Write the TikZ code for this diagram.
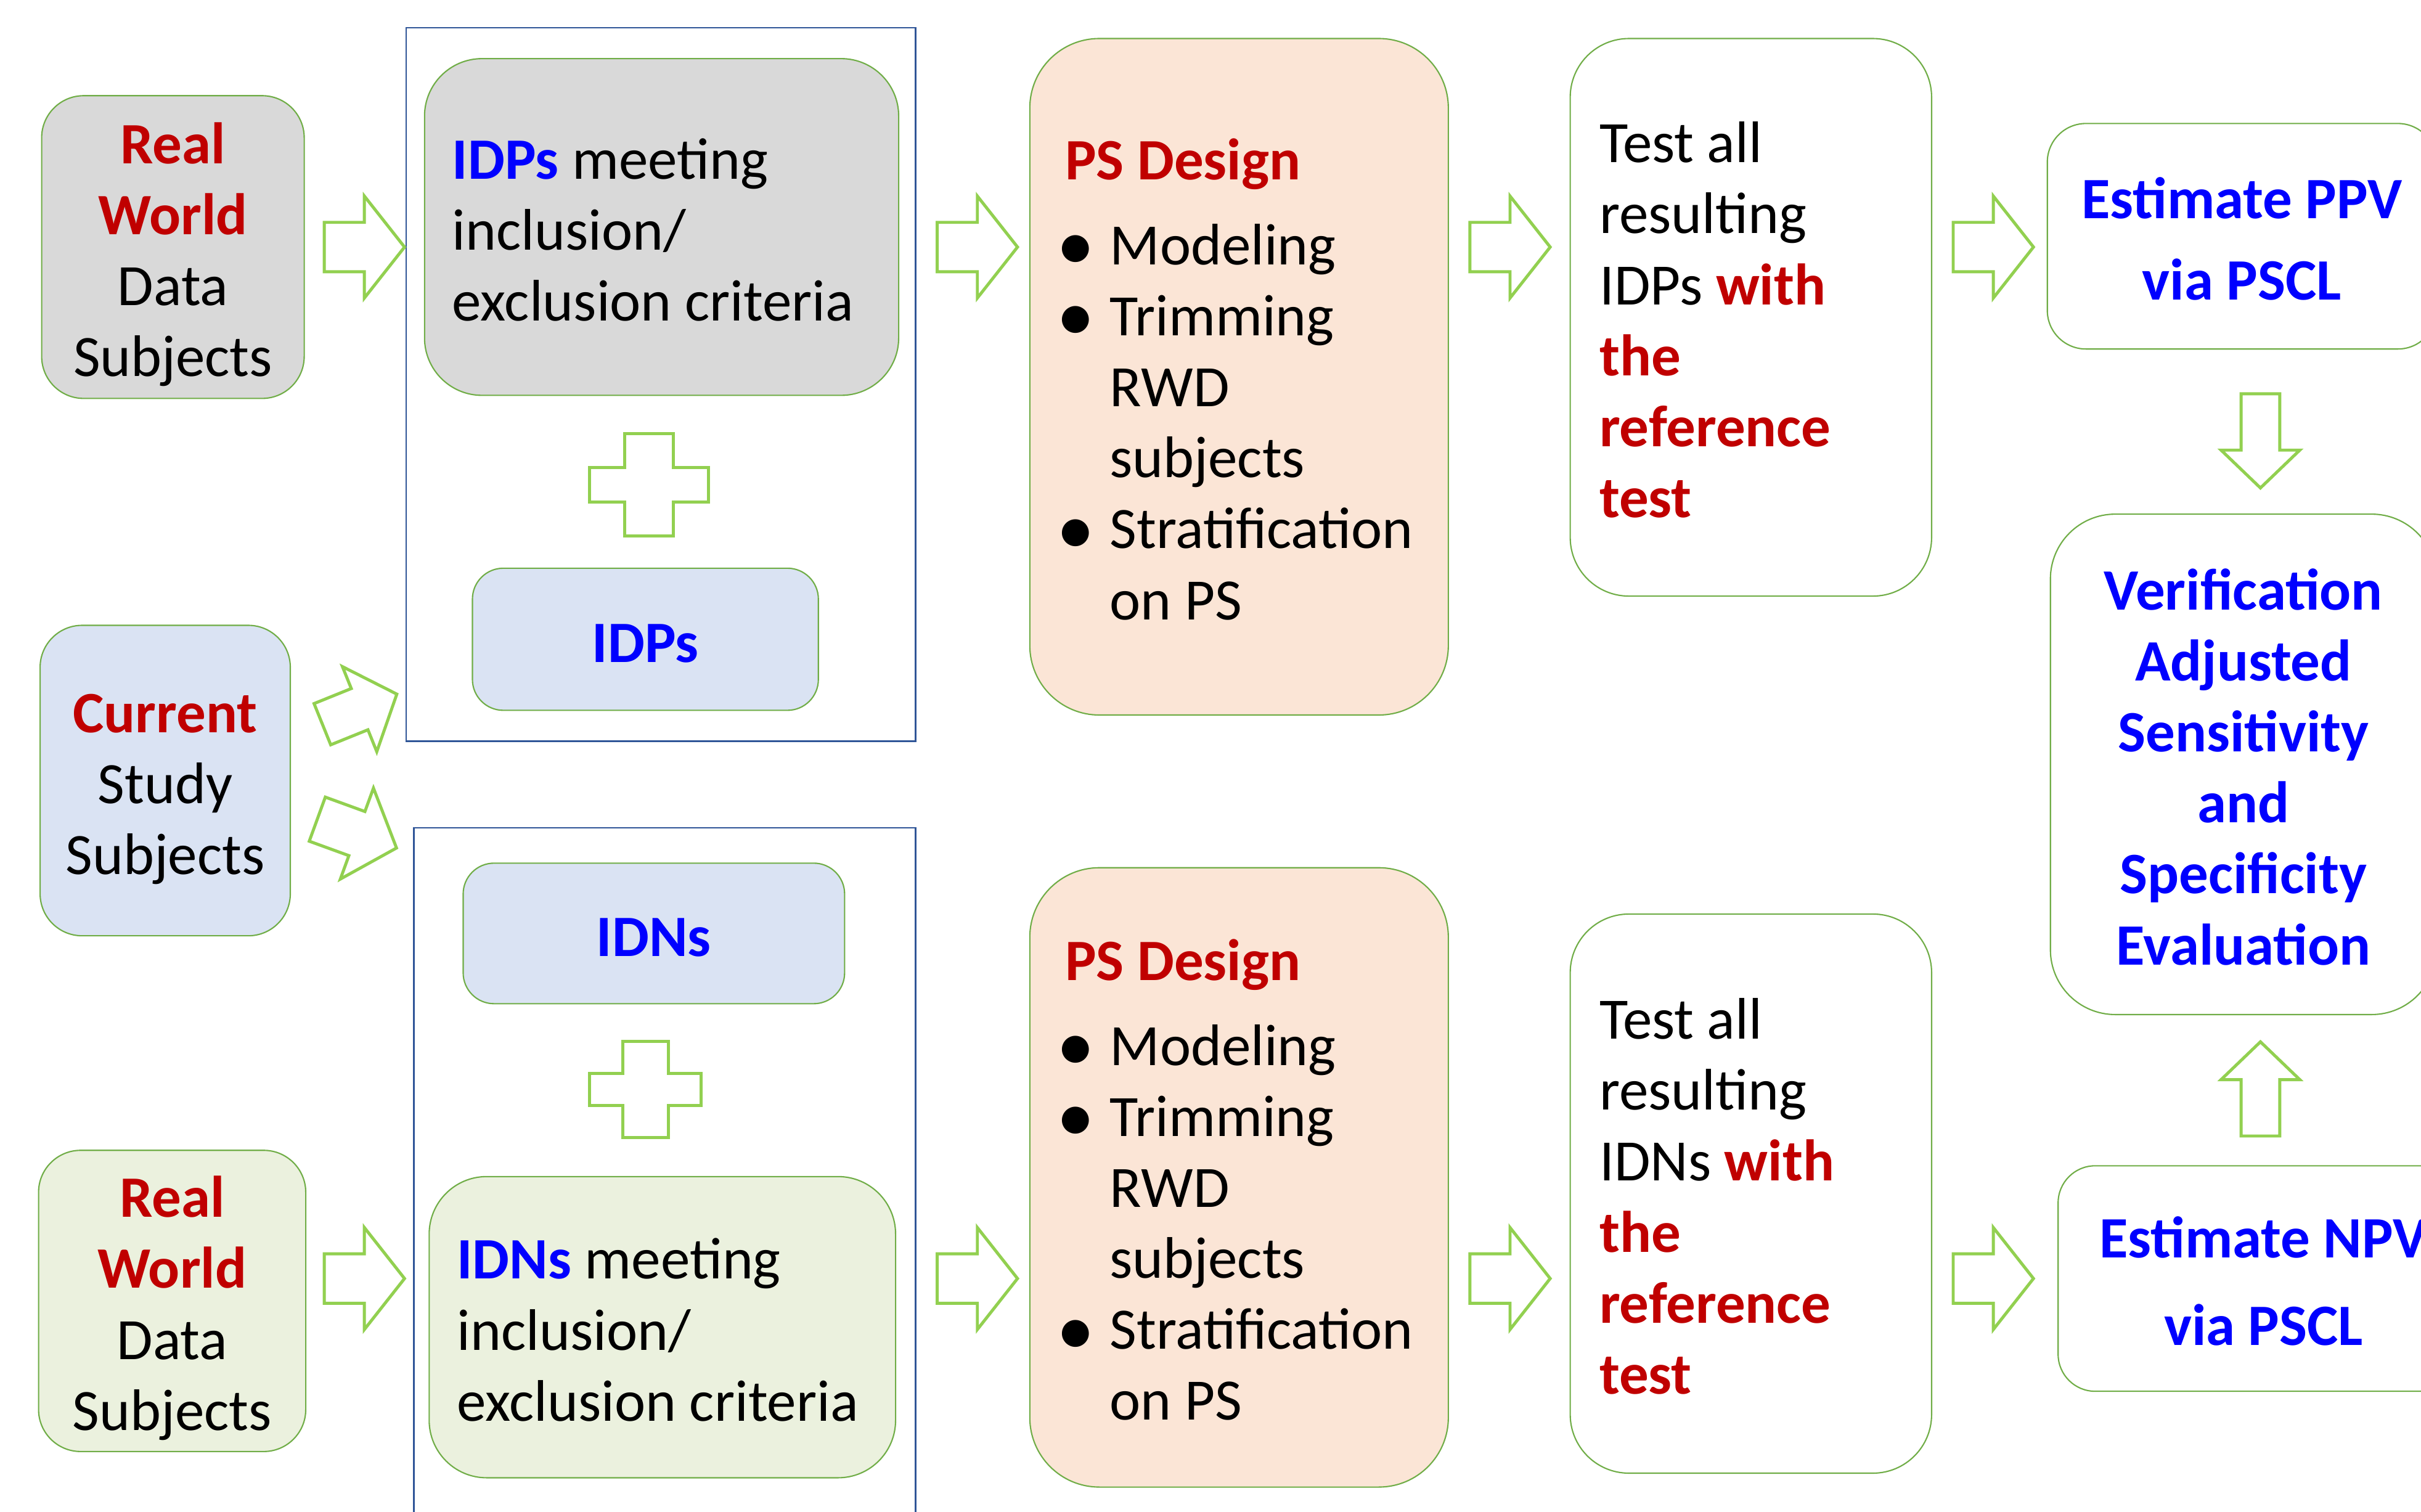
\documentclass[tikz,border=0pt]{standalone}
\usepackage{fontspec}
\setmainfont{Carlito}

\definecolor{boxgreen}{HTML}{70AD47}
\definecolor{arrowgreen}{HTML}{92D050}
\definecolor{frameblue}{HTML}{2F5597}
\definecolor{hired}{HTML}{C00000}
\definecolor{hiblue}{HTML}{0000FF}
\definecolor{grayfill}{HTML}{D9D9D9}
\definecolor{bluefill}{HTML}{DAE3F3}
\definecolor{greenfill}{HTML}{EBF1DE}
\definecolor{peachfill}{HTML}{FBE5D6}

\newcommand{\redb}[1]{\textcolor{hired}{\textbf{#1}}}
\newcommand{\blueb}[1]{\textcolor{hiblue}{\textbf{#1}}}
\newcommand{\psbullet}{\makebox[0.725cm][l]{\makebox[0.35cm]{\raisebox{-0.1em}{\scalebox{1.3}{\textbullet}}}}}
\newcommand{\psindent}{\hspace*{0.725cm}}
% fixed first-line height and last-line depth, so every box centres alike
\newcommand{\boxtopstrut}{\rule{0pt}{28.2pt}}
\newcommand{\boxbotstrut}{\rule[-7.2pt]{0pt}{7.2pt}}

\begin{document}
\begin{tikzpicture}[x=0.025cm,y=-0.025cm,
  box/.style={draw=boxgreen, line width=0.6pt, inner sep=0pt, align=center,
    font=\fontsize{27pt}{32.7pt}\selectfont,
    execute at begin node={\spaceskip=0pt}},
  lefttext/.style={align=flush left, inner xsep=#1},
  frame/.style={draw=frameblue, line width=0.65pt},
  arrowline/.style={draw=arrowgreen, line width=1.4pt, line join=miter, fill=white},
  pics/harrow/.style={code={
    \draw[arrowline,pic actions] (0,-16) -- (26,-16) -- (26,-33) -- (52,0)
      -- (26,33) -- (26,16) -- (0,16) -- cycle;}},
  pics/varrow/.style={code={
    \draw[arrowline,pic actions] (0,-12.5) -- (36.5,-12.5) -- (36.5,-25.5) -- (61,0)
      -- (36.5,25.5) -- (36.5,12.5) -- (0,12.5) -- cycle;}},
  pics/plus/.style={code={
    \draw[arrowline,pic actions] (-15.75,-33) -- (15.75,-33) -- (15.75,-11.15)
      -- (38.5,-11.15) -- (38.5,11.15) -- (15.75,11.15) -- (15.75,33)
      -- (-15.75,33) -- (-15.75,11.15) -- (-38.5,11.15) -- (-38.5,-11.15)
      -- (-15.75,-11.15) -- cycle;}}]
  \useasboundingbox (0,0) rectangle (1568,979);
  \clip (0,0) rectangle (1568,979);

  % source data
  \node[box, fill=grayfill, minimum width=4.25cm, minimum height=4.9cm,
    rounded corners=0.68cm] (rwA) at (112,160)
    {\boxtopstrut\redb{Real}\\\redb{World}\\Data\\Subjects\boxbotstrut};
  \node[box, fill=bluefill, minimum width=4.05cm, minimum height=5.025cm,
    rounded corners=0.68cm] (curr) at (107,505.5)
    {\boxtopstrut\redb{Current}\\Study\\Subjects\boxbotstrut};
  \node[box, fill=greenfill, minimum width=4.325cm, minimum height=4.875cm,
    rounded corners=0.68cm] (rwB) at (111.5,842.5)
    {\boxtopstrut\redb{Real}\\\redb{World}\\Data\\Subjects\boxbotstrut};

  % IDP and IDN sets
  \draw[frame] (263,18) rectangle (593,480);
  \draw[frame] (268,536) rectangle (593,995);
  \node[box, fill=grayfill, minimum width=7.675cm, minimum height=5.45cm,
    rounded corners=0.93cm, text width=6.775cm, lefttext=0.45cm] (idpA) at (428.5,147)
    {\boxtopstrut\blueb{IDPs} meeting\\inclusion/\\exclusion criteria\boxbotstrut};
  \pic at (420.5,314) {plus};
  \node[box, fill=bluefill, minimum width=5.6cm, minimum height=2.3cm,
    rounded corners=0.5cm] (idpB) at (418,414) {\boxtopstrut\blueb{IDPs}\boxbotstrut};
  \node[box, fill=bluefill, minimum width=6.175cm, minimum height=2.275cm,
    rounded corners=0.5cm] (idnA) at (423.5,604.5) {\boxtopstrut\blueb{IDNs}\boxbotstrut};
  \pic[scale=0.94] at (418,705.5) {plus};
  \node[box, fill=greenfill, minimum width=7.55cm, minimum height=4.875cm,
    rounded corners=0.93cm, text width=6.65cm, lefttext=0.45cm] (idnB) at (429,859.5)
    {\boxtopstrut\blueb{IDNs} meeting\\inclusion/\\exclusion criteria\boxbotstrut};

  % propensity score design
  \node[box, fill=peachfill, minimum width=6.775cm, minimum height=10.95cm,
    rounded corners=1.125cm, align=left] (psA) at (802.5,244)
    {\boxtopstrut\redb{PS Design}\\[0.225cm]
     \psbullet Modeling\\\psbullet Trimming\\\psindent RWD\\\psindent subjects\\
     \psbullet Stratification\\\psindent on PS\boxbotstrut};
  \node[box, fill=peachfill, minimum width=6.775cm, minimum height=10.025cm,
    rounded corners=1.125cm, align=left] (psB) at (802.5,762.5)
    {\boxtopstrut\redb{PS Design}\\[0.225cm]
     \psbullet Modeling\\\psbullet Trimming\\\psindent RWD\\\psindent subjects\\
     \psbullet Stratification\\\psindent on PS\boxbotstrut};

  % reference testing
  \node[box, fill=white, minimum width=5.85cm, minimum height=9.025cm,
    rounded corners=0.95cm, text width=4.9cm, lefttext=0.475cm] (testA) at (1134,205.5)
    {\boxtopstrut Test all\\resulting\\IDPs \redb{with}\\\redb{the}\\\redb{reference}\\
     \redb{test}\boxbotstrut};
  \node[box, fill=white, minimum width=5.85cm, minimum height=9.05cm,
    rounded corners=0.95cm, text width=4.9cm, lefttext=0.475cm] (testB) at (1134,773)
    {\boxtopstrut Test all\\resulting\\IDNs \redb{with}\\\redb{the}\\\redb{reference}\\
     \redb{test}\boxbotstrut};

  % estimation and evaluation
  \node[box, fill=white, minimum width=6.3cm, minimum height=3.65cm,
    rounded corners=0.625cm] (ppv) at (1452,153)
    {\boxtopstrut\blueb{Estimate PPV}\\[0.165cm]\blueb{via PSCL}\boxbotstrut};
  \node[box, fill=white, minimum width=6.25cm, minimum height=8.1cm,
    rounded corners=1.05cm] (verif) at (1453,495)
    {\boxtopstrut\blueb{Verification}\\\blueb{Adjusted}\\\blueb{Sensitivity}\\\blueb{and}\\
     \blueb{Specificity}\\\blueb{Evaluation}\boxbotstrut};
  \node[box, fill=white, minimum width=6.65cm, minimum height=3.65cm,
    rounded corners=0.6cm] (npv) at (1466,828)
    {\boxtopstrut\blueb{Estimate NPV}\\[0.265cm]\blueb{via PSCL}\boxbotstrut};

  % block arrows
  \pic[fill=grayfill] at (210,160) {harrow};
  \pic[fill=bluefill, rotate=22, yscale=0.9] at (208.8,469) {harrow};
  \pic[fill=bluefill, rotate=-20, xscale=1.05, yscale=0.95] at (205.5,530.5) {harrow};
  \pic[fill=greenfill] at (210,828) {harrow};
  \pic at (607,160) {harrow};
  \pic at (607,828) {harrow};
  \pic at (952,160) {harrow};
  \pic at (952,828) {harrow};
  \pic at (1265,160) {harrow};
  \pic at (1265,828) {harrow};
  \pic[rotate=-90] at (1464,255) {varrow};
  \pic[rotate=90] at (1464,735.7) {varrow};
\end{tikzpicture}
\end{document}
